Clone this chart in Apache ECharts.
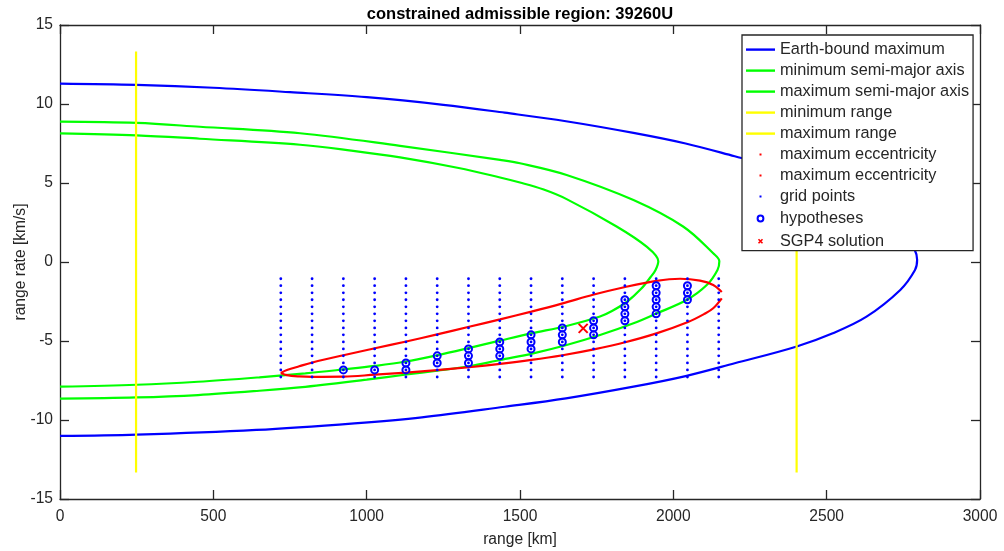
<!DOCTYPE html>
<html>
<head>
<meta charset="utf-8">
<title>constrained admissible region: 39260U</title>
<script src="https://cdn.jsdelivr.net/npm/echarts@6/dist/echarts.min.js"></script>
<style>
  html, body { margin: 0; padding: 0; background: #ffffff; }
  #chart { width: 1004px; height: 551px; }
</style>
</head>
<body>
<div id="chart"></div>
<script>
// ---- axis ticks ----
const xTicks = [0, 500, 1000, 1500, 2000, 2500, 3000];
const yTicks = [-15, -10, -5, 0, 5, 10, 15];

// ---- Earth-bound maximum (closed loop: upper branch out, lower branch back) ----
const earthBoundRange = [0, 250, 500, 750, 1000, 1250, 1450, 1650, 1870, 2040, 2200, 2400, 2520, 2630, 2740, 2788, 2795,
                         2788, 2740, 2630, 2520, 2400, 2200, 2040, 1870, 1650, 1450, 1180, 960, 640, 250, 0];
const earthBoundRate  = [11.29, 11.21, 11.03, 10.75, 10.43, 9.95, 9.45, 8.91, 8.17, 7.50, 6.69, 5.64, 4.79, 3.74, 2.05, 0.72, 0.14,
                         -0.51, -1.77, -3.46, -4.51, -5.36, -6.41, -7.22, -7.89, -8.63, -9.16, -9.83, -10.21, -10.63, -10.93, -11.01];

// ---- minimum semi-major axis ----
const minSmaRange = [0, 250, 456, 783, 950, 1109, 1300, 1435, 1500, 1575, 1652, 1815, 1913, 1951,
                     1942, 1926, 1895, 1850, 1800, 1761, 1652, 1536, 1434, 1332, 1230, 1128, 1026, 924, 800, 650, 450, 250, 0];
const minSmaRate  = [8.14, 8.02, 7.80, 7.42, 7.05, 6.62, 5.95, 5.35, 5.03, 4.60, 3.98, 2.25, 0.97, 0.05,
                     -0.50, -0.95, -1.70, -2.50, -3.10, -3.45, -4.05, -4.52, -4.98, -5.45, -5.90, -6.30, -6.58, -6.80, -7.05, -7.30, -7.58, -7.77, -7.89];

// ---- maximum semi-major axis ----
const maxSmaRange = [0, 250, 456, 783, 1109, 1435, 1500, 1652, 1870, 2033, 2130, 2150,
                     2144, 2109, 2043, 1946, 1870, 1761, 1652, 1543, 1435, 1334, 1230, 1130, 1000, 800, 650, 450, 250, 0];
const maxSmaRate  = [8.88, 8.80, 8.56, 8.15, 7.35, 6.46, 6.25, 5.51, 3.92, 2.23, 0.55, 0.05,
                     -0.50, -1.46, -2.41, -3.25, -3.88, -4.62, -5.25, -5.78, -6.20, -6.60, -6.88, -7.12, -7.45, -7.90, -8.15, -8.42, -8.57, -8.65];

// ---- range limits ----
const minRange = 248;
const maxRange = 2402;
const rangeLimitRates = [-13.33, 13.33];

// ---- maximum eccentricity boundary (two halves) ----
const eccUpperRange = [720, 740, 780, 823, 924, 1027, 1129, 1230, 1334, 1435, 1537, 1639, 1741, 1843, 1945, 2022, 2087, 2130, 2158];
const eccUpperRate  = [-7.02, -6.84, -6.60, -6.36, -5.90, -5.46, -5.03, -4.58, -4.10, -3.63, -3.14, -2.62, -2.06, -1.58, -1.19, -1.06, -1.18, -1.45, -1.90];
const eccLowerRange = [720, 740, 780, 823, 924, 1027, 1129, 1230, 1334, 1435, 1537, 1639, 1741, 1843, 1945, 2048, 2100, 2130, 2158];
const eccLowerRate  = [-7.02, -7.16, -7.24, -7.27, -7.26, -7.13, -7.00, -6.84, -6.66, -6.45, -6.20, -5.90, -5.53, -5.08, -4.52, -3.80, -3.30, -2.93, -2.30];

// ---- grid points ----
const gridRanges = [720, 822, 924, 1026, 1128, 1230, 1332, 1434, 1536, 1638, 1740, 1842, 1944, 2046, 2148];
const gridRates  = [-1.06, -1.50, -1.95, -2.39, -2.84, -3.28, -3.72, -4.17, -4.61, -5.06, -5.50, -5.94, -6.39, -6.83, -7.28];

// ---- hypotheses ----
const hypRange = [924, 1026, 1128, 1128, 1230, 1230, 1332, 1332, 1332, 1434, 1434, 1434,
                  1536, 1536, 1536, 1638, 1638, 1638, 1740, 1740, 1740,
                  1842, 1842, 1842, 1842, 1944, 1944, 1944, 1944, 1944, 2046, 2046, 2046];
const hypRate  = [-6.83, -6.83, -6.39, -6.83, -5.94, -6.39, -5.50, -5.94, -6.39, -5.06, -5.50, -5.94,
                  -4.61, -5.06, -5.50, -4.17, -4.61, -5.06, -3.72, -4.17, -4.61,
                  -2.39, -2.84, -3.28, -3.72, -1.50, -1.95, -2.39, -2.84, -3.28, -1.50, -1.95, -2.39];

// ---- SGP4 solution ----
const sgp4Range = [1706];
const sgp4Rate  = [-4.20];

// ---- helpers ----
const zip = (xs, ys) => xs.map((x, i) => [x, ys[i]]);
const gridData = [];
gridRanges.forEach(r => gridRates.forEach(v => gridData.push([r, v])));

const INK = '#262626';
const FONT = '"Liberation Sans", Arial, Helvetica, sans-serif';
const BLUE = '#0000ff', GREEN = '#00ff00', YELLOW = '#ffff00', RED = '#ff0000';
const ECC2 = 'maximum eccentricity (2)';

function lineSeries(name, data, color) {
  return {
    type: 'line', name, data, color,
    symbol: 'none', smooth: 0.35,
    lineStyle: { color, width: 2.2 },
    silent: true, z: 2
  };
}

const xMin = xTicks[0], xMax = xTicks[xTicks.length - 1], xStep = xTicks[1] - xTicks[0];
const yMin = yTicks[0], yMax = yTicks[yTicks.length - 1], yStep = yTicks[1] - yTicks[0];

const axisCommon = {
  type: 'value',
  axisLine: { show: true, onZero: false, lineStyle: { color: INK, width: 1.3 } },
  axisTick: { show: true, inside: true, length: 9, lineStyle: { color: INK, width: 1.3 } },
  splitLine: { show: false }
};
const plainNumber = v => String(v);

// legend icons: invisible corner moves fix the icon box so small marks keep their size
const ICON_BOX = 'M0,0M29,16';
const barIcon = 'path://' + ICON_BOX + 'M0,6.9H29V9.3H0z';
const dotIcon = 'path://' + ICON_BOX + 'M13.5,7h2v2h-2z';
const ringIcon = 'path://' + ICON_BOX + 'M17.4,8A2.9,2.9,0,1,1,11.6,8A2.9,2.9,0,1,1,17.4,8z';
const crossIcon = 'path://' + ICON_BOX + 'M12.5,6L16.5,10M16.5,6L12.5,10';
const crossSymbol = 'path://M0,0L10,10M10,0L0,10';

const chart = echarts.init(document.getElementById('chart'), null, { renderer: 'canvas' });
chart.setOption({
  animation: false,
  backgroundColor: '#ffffff',
  title: {
    text: 'constrained admissible region: 39260U',
    left: 515, top: 1, textAlign: 'center',
    textStyle: { fontFamily: FONT, fontSize: 16.5, fontWeight: 'bold', color: '#000000' }
  },
  grid: { left: 60, right: 24, top: 25, bottom: 52, containLabel: false, outerBoundsMode: 'none' },
  xAxis: [
    Object.assign({}, axisCommon, {
      position: 'bottom', min: xMin, max: xMax, interval: xStep,
      name: 'range [km]', nameLocation: 'middle', nameGap: 33,
      nameTextStyle: { fontFamily: FONT, fontSize: 15.6, color: INK },
      axisLabel: { color: INK, fontFamily: FONT, fontSize: 15.6, margin: 10, formatter: plainNumber }
    }),
    Object.assign({}, axisCommon, {
      position: 'top', min: xMin, max: xMax, interval: xStep,
      axisLabel: { show: false }
    })
  ],
  yAxis: [
    Object.assign({}, axisCommon, {
      position: 'left', min: yMin, max: yMax, interval: yStep,
      name: 'range rate [km/s]', nameLocation: 'middle', nameGap: 31, nameMoveOverlap: false,
      nameTextStyle: { fontFamily: FONT, fontSize: 15.6, color: INK },
      axisLabel: { color: INK, fontFamily: FONT, fontSize: 15.6, margin: 7, formatter: plainNumber }
    }),
    Object.assign({}, axisCommon, {
      position: 'right', min: yMin, max: yMax, interval: yStep,
      axisLabel: { show: false }
    })
  ],
  legend: {
    orient: 'vertical',
    left: 742, top: 35,
    padding: [6.5, 4, 0.5, 3],
    itemGap: 5.0,
    itemWidth: 29,
    itemHeight: 16,
    selectedMode: false,
    backgroundColor: '#ffffff',
    borderColor: INK,
    borderWidth: 1.3,
    z: 10,
    textStyle: { fontFamily: FONT, fontSize: 16.3, color: INK, lineHeight: 16 },
    formatter: name => name.replace(' (2)', ''),
    data: [
      { name: 'Earth-bound maximum', icon: barIcon, itemStyle: { color: BLUE, borderWidth: 0 } },
      { name: 'minimum semi-major axis', icon: barIcon, itemStyle: { color: GREEN, borderWidth: 0 } },
      { name: 'maximum semi-major axis', icon: barIcon, itemStyle: { color: GREEN, borderWidth: 0 } },
      { name: 'minimum range', icon: barIcon, itemStyle: { color: YELLOW, borderWidth: 0 } },
      { name: 'maximum range', icon: barIcon, itemStyle: { color: YELLOW, borderWidth: 0 } },
      { name: 'maximum eccentricity', icon: dotIcon, itemStyle: { color: RED, borderWidth: 0 } },
      { name: ECC2, icon: dotIcon, itemStyle: { color: RED, borderWidth: 0 } },
      { name: 'grid points', icon: dotIcon, itemStyle: { color: BLUE, borderWidth: 0 } },
      { name: 'hypotheses', icon: ringIcon, itemStyle: { color: 'rgba(0,0,0,0)', borderColor: BLUE, borderWidth: 2 } },
      { name: 'SGP4 solution', icon: crossIcon, itemStyle: { color: 'rgba(0,0,0,0)', borderColor: RED, borderWidth: 1.6 } }
    ]
  },
  series: [
    lineSeries('Earth-bound maximum', zip(earthBoundRange, earthBoundRate), BLUE),
    lineSeries('minimum semi-major axis', zip(minSmaRange, minSmaRate), GREEN),
    lineSeries('maximum semi-major axis', zip(maxSmaRange, maxSmaRate), GREEN),
    lineSeries('minimum range', rangeLimitRates.map(v => [minRange, v]), YELLOW),
    lineSeries('maximum range', rangeLimitRates.map(v => [maxRange, v]), YELLOW),
    lineSeries('maximum eccentricity', zip(eccUpperRange, eccUpperRate), RED),
    lineSeries(ECC2, zip(eccLowerRange, eccLowerRate), RED),
    {
      type: 'scatter', name: 'grid points', data: gridData,
      symbol: 'circle', symbolSize: 2.8,
      itemStyle: { color: BLUE, opacity: 1 }, silent: true, z: 3
    },
    {
      type: 'scatter', name: 'hypotheses', data: zip(hypRange, hypRate),
      symbol: 'circle', symbolSize: 7,
      itemStyle: { color: 'rgba(0,0,0,0)', borderColor: BLUE, borderWidth: 2, opacity: 1 },
      silent: true, z: 4
    },
    {
      type: 'scatter', name: 'SGP4 solution', data: zip(sgp4Range, sgp4Rate),
      symbol: crossSymbol, symbolSize: 9,
      itemStyle: { color: 'rgba(0,0,0,0)', borderColor: RED, borderWidth: 2, opacity: 1 },
      silent: true, z: 5
    }
  ]
});
</script>
</body>
</html>
